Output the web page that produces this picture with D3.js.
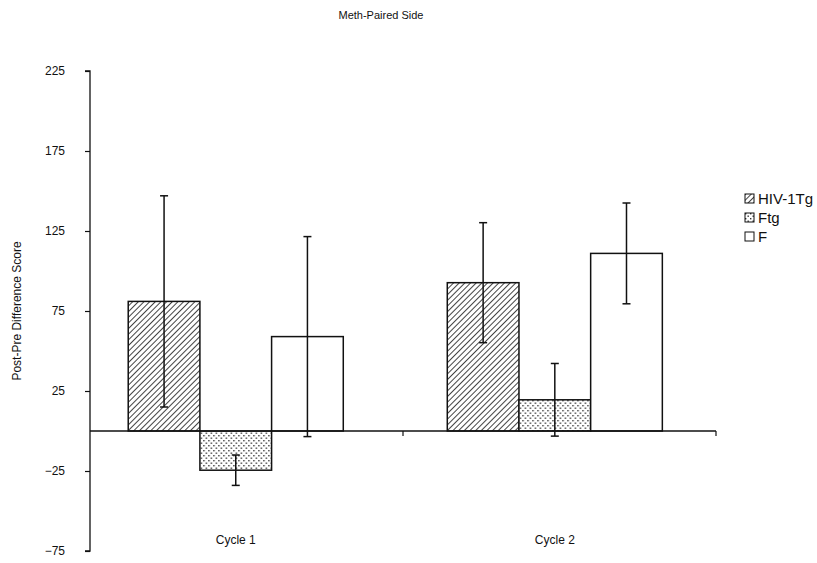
<!DOCTYPE html>
<html>
<head>
<meta charset="utf-8">
<script src="https://cdn.jsdelivr.net/npm/d3@7"></script>
<style>
  html, body { margin: 0; padding: 0; background: #fff; }
  svg { display: block; font-family: "Liberation Sans", Arial, sans-serif; }
</style>
</head>
<body>
<svg id="chart" width="817" height="563"></svg>
<script>
// ---- data ----
const categories = ["Cycle 1", "Cycle 2"];
const seriesNames = ["HIV-1Tg", "Ftg", "F"];
const hivValues = [81, 92.7];
const ftgValues = [-24.5, 19.5];
const fValues = [59, 111];
const hivErrors = [66, 37.5];
const ftgErrors = [9.5, 22.7];
const fErrors = [62.5, 31.5];
const yTicks = [225, 175, 125, 75, 25, -25, -75];
const titleText = "Meth-Paired Side";
const yLabelText = "Post-Pre Difference Score";

const seriesValues = [hivValues, ftgValues, fValues];
const seriesErrors = [hivErrors, ftgErrors, fErrors];
const fills = ["url(#hatch)", "url(#dots)", "#fff"];

const svg = d3.select("#chart");

// patterns
const defs = svg.append("defs");
const hatch = defs.append("pattern").attr("id", "hatch")
  .attr("patternUnits", "userSpaceOnUse").attr("width", 4).attr("height", 4)
  .attr("patternTransform", "rotate(45)");
hatch.append("rect").attr("width", 4).attr("height", 4).attr("fill", "#fff");
hatch.append("line").attr("x1", 0).attr("y1", 0).attr("x2", 0).attr("y2", 4)
  .attr("stroke", "#222").attr("stroke-width", 1.7);

const dots = defs.append("pattern").attr("id", "dots")
  .attr("patternUnits", "userSpaceOnUse").attr("width", 5).attr("height", 5);
dots.append("rect").attr("width", 5).attr("height", 5).attr("fill", "#fff");
dots.append("rect").attr("x", 0).attr("y", 0).attr("width", 1.4).attr("height", 1.4).attr("fill", "#333");
dots.append("rect").attr("x", 2.5).attr("y", 2.5).attr("width", 1.4).attr("height", 1.4).attr("fill", "#333");

// scales
const xLeft = 90, xRight = 716;
const y = d3.scaleLinear().domain([-75, 225]).range([551, 71]);
const x0 = d3.scaleBand().domain(categories).range([xLeft, xRight])
  .paddingInner(0.326).paddingOuter(0.144).align(0.416);
const x1 = d3.scaleBand().domain(seriesNames).range([0, x0.bandwidth()]);

// title
svg.append("text").attr("x", 381).attr("y", 19).attr("text-anchor", "middle")
  .attr("font-size", 11).attr("fill", "#111").text(titleText);

// y axis label
svg.append("text").attr("transform", "translate(21,311) rotate(-90)")
  .attr("text-anchor", "middle").attr("font-size", 12).attr("fill", "#111").text(yLabelText);

// y axis
const yAxis = d3.axisLeft(y).tickValues(yTicks).tickSize(5).tickPadding(20).tickFormat(d3.format("d"));
const gy = svg.append("g").attr("transform", `translate(${xLeft},0)`).call(yAxis);
gy.select(".domain").attr("stroke", "#111").attr("stroke-width", 1.3).attr("d", `M-5,${y(225)}H0V${y(-75)}H-5`);
gy.selectAll(".tick line").attr("stroke", "#111").attr("stroke-width", 1.2);
gy.selectAll(".tick text").attr("font-size", 12).attr("fill", "#111")
  .attr("font-family", "'Liberation Sans', Arial, sans-serif");

// bars
const groups = svg.append("g").selectAll("g").data(categories).join("g")
  .attr("transform", d => `translate(${x0(d)},0)`);

seriesNames.forEach((s, si) => {
  groups.append("rect")
    .attr("x", x1(s))
    .attr("width", x1.bandwidth())
    .attr("y", (d, i) => y(Math.max(0, seriesValues[si][i])))
    .attr("height", (d, i) => Math.abs(y(seriesValues[si][i]) - y(0)))
    .attr("fill", fills[si])
    .attr("stroke", "#111").attr("stroke-width", 1.5);
});

// x axis line (at zero)
const gx = svg.append("g");
gx.append("line").attr("x1", xLeft).attr("x2", xRight).attr("y1", y(0)).attr("y2", y(0))
  .attr("stroke", "#111").attr("stroke-width", 1.3);
[(xLeft + xRight) / 2, xRight].forEach(xt => {
  gx.append("line").attr("x1", xt).attr("x2", xt).attr("y1", y(0)).attr("y2", y(0) + 5)
    .attr("stroke", "#111").attr("stroke-width", 1.2);
});

// error bars
seriesNames.forEach((s, si) => {
  const cx = (d) => x1(s) + x1.bandwidth() / 2;
  groups.append("line")
    .attr("x1", cx).attr("x2", cx)
    .attr("y1", (d, i) => y(seriesValues[si][i] + seriesErrors[si][i]))
    .attr("y2", (d, i) => y(seriesValues[si][i] - seriesErrors[si][i]))
    .attr("stroke", "#111").attr("stroke-width", 1.5);
  [1, -1].forEach(sign => {
    groups.append("line")
      .attr("x1", d => cx(d) - 4).attr("x2", d => cx(d) + 4)
      .attr("y1", (d, i) => y(seriesValues[si][i] + sign * seriesErrors[si][i]))
      .attr("y2", (d, i) => y(seriesValues[si][i] + sign * seriesErrors[si][i]))
      .attr("stroke", "#111").attr("stroke-width", 1.5);
  });
});

// category labels
svg.append("g").selectAll("text").data(categories).join("text")
  .attr("x", d => x0(d) + x0.bandwidth() / 2)
  .attr("y", 544).attr("text-anchor", "middle").attr("font-size", 12).attr("fill", "#111")
  .text(d => d);

// legend
const legend = svg.append("g").attr("transform", "translate(745,194)");
seriesNames.forEach((s, si) => {
  const g = legend.append("g").attr("transform", `translate(0,${si * 19})`);
  g.append("rect").attr("x", 0).attr("y", 0).attr("width", 9).attr("height", 9)
    .attr("fill", fills[si]).attr("stroke", "#111").attr("stroke-width", 1);
  g.append("text").attr("x", 13).attr("y", 10).attr("font-size", 15).attr("fill", "#111").text(s);
});
</script>
</body>
</html>
